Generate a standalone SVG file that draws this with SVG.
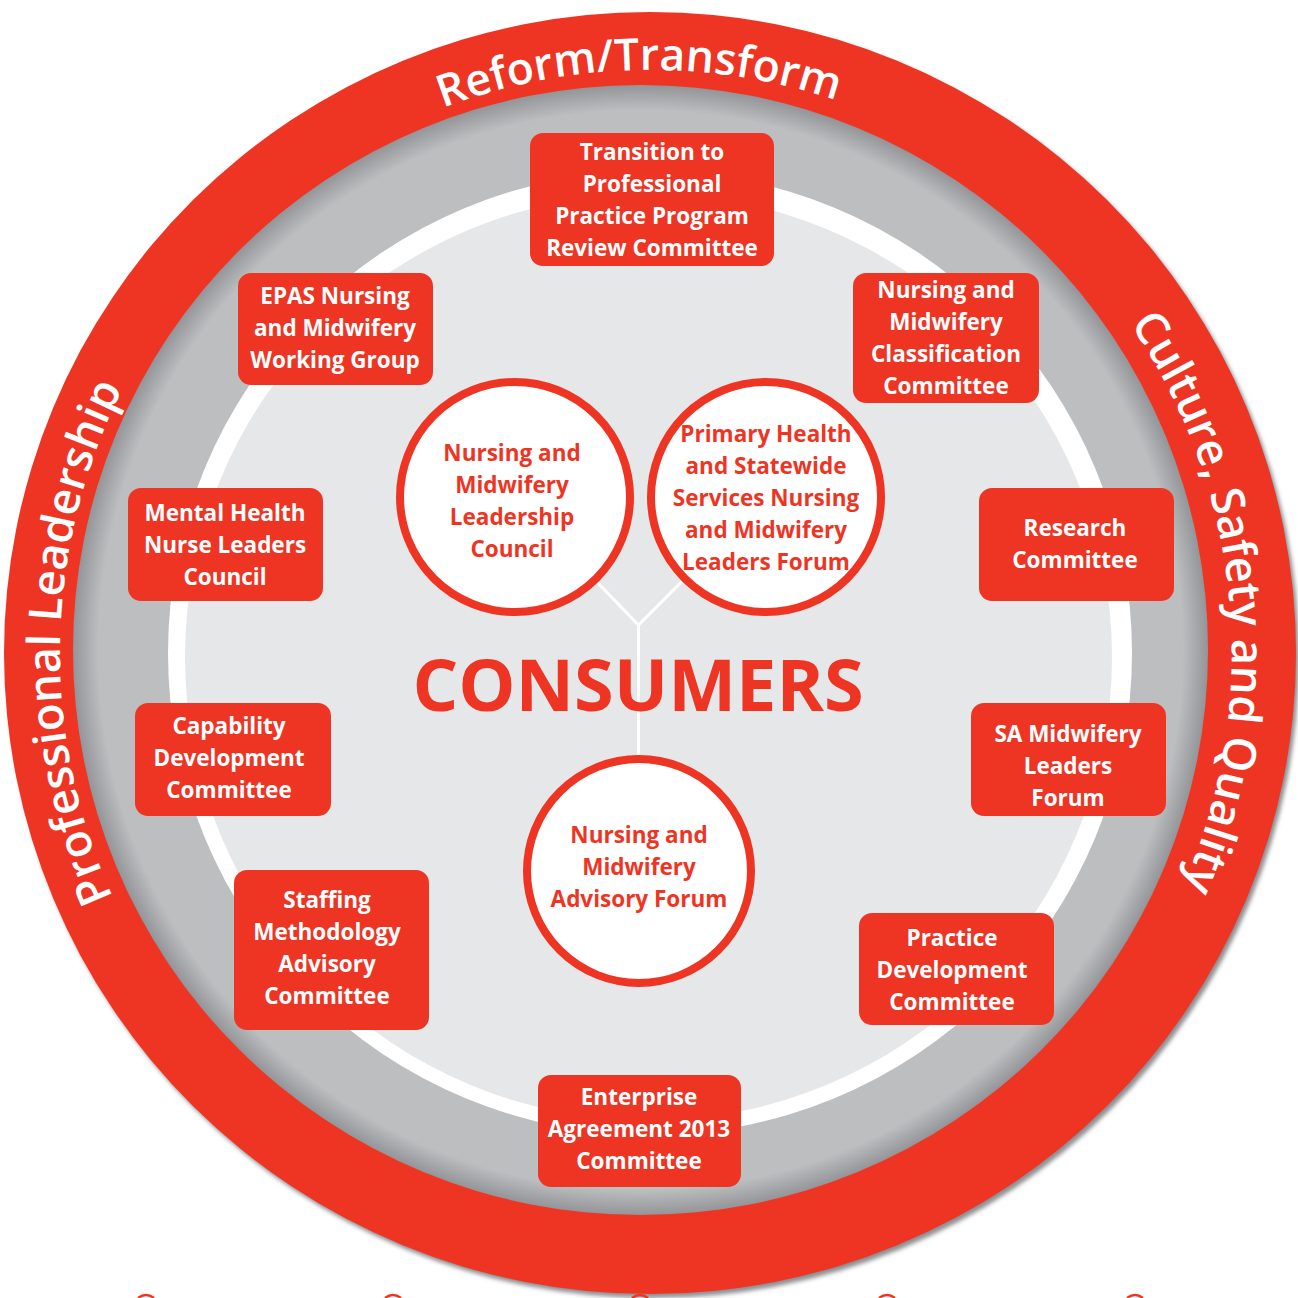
<svg xmlns="http://www.w3.org/2000/svg" xmlns:xlink="http://www.w3.org/1999/xlink" width="1298" height="1298" viewBox="0 0 1298 1298">
  <style>
    .box { fill: #ee3524; }
    .boxtext { fill: #ffffff; font-family: "Open Sans", "Liberation Sans", sans-serif; font-weight: 700; font-size: 22.5px; text-anchor: middle; }
    .disc { fill: #ffffff; stroke: #ee3524; stroke-width: 8; }
    .disctext { fill: #ee3524; font-family: "Open Sans", "Liberation Sans", sans-serif; font-weight: 700; font-size: 22.5px; text-anchor: middle; }
    .ringtext { fill: #ffffff; font-family: "Open Sans", "Liberation Sans", sans-serif; font-weight: 600; font-size: 45.5px; }
    .ringtext.top { font-size: 44.5px; }
    .link { fill: none; stroke: #ffffff; stroke-width: 3; }
  </style>
  <defs>
    <radialGradient id="greyBand" cx="0.5" cy="0.5" r="0.5">
      <stop offset="0.955" stop-color="#bcbec0"/>
      <stop offset="1" stop-color="#939598"/>
    </radialGradient>
    <filter id="soft" x="-5%" y="-5%" width="110%" height="110%">
      <feGaussianBlur stdDeviation="2"/>
    </filter>
    <path id="arcTop" d="M67,653 A583,583 0 0 1 1233,653"/>
    <path id="arcLeft" d="M648,1241 A588,588 0 0 1 648,65"/>
    <path id="arcRight" d="M650,71 A582,582 0 0 1 650,1235"/>
  </defs>

  <rect width="1298" height="1298" fill="#ffffff"/>

  <!-- concentric rings -->
  <g id="rings">
    <ellipse cx="653" cy="657" rx="646" ry="641" fill="#8d8f92" filter="url(#soft)"/>
    <ellipse cx="650" cy="653" rx="646" ry="641" fill="#ee3524"/>
    <ellipse cx="640.5" cy="650" rx="567.5" ry="565" fill="url(#greyBand)"/>
    <circle cx="650" cy="653" r="482" fill="#ffffff"/>
    <circle cx="648.5" cy="657" r="463.5" fill="#e6e7e8"/>
  </g>

  <!-- labels on the outer red ring -->
  <g id="ring-labels">
    <text class="ringtext top"><textPath xlink:href="#arcTop" href="#arcTop" startOffset="49.4%" text-anchor="middle">Reform/Transform</textPath></text>
    <text class="ringtext"><textPath xlink:href="#arcLeft" href="#arcLeft" startOffset="50.6%" text-anchor="middle">Professional Leadership</textPath></text>
    <text class="ringtext"><textPath xlink:href="#arcRight" href="#arcRight" startOffset="47%" text-anchor="middle">Culture, Safety and Quality</textPath></text>
  </g>

  <!-- links between the three central forums -->
  <g id="connectors">
    <path class="link" d="M515,497 L638.5,625 L766,497"/>
    <path class="link" d="M638.5,625 V871"/>
  </g>

  <g id="consumers">
    <text x="638" y="711" fill="#ee3524" font-family="'Open Sans', 'Liberation Sans', sans-serif" font-weight="700" font-size="72" text-anchor="middle">CONSUMERS</text>
  </g>

  <!-- central forums -->
  <g id="leadership-council">
    <circle class="disc" cx="515" cy="497" r="115"/>
    <text class="disctext" x="512"><tspan x="512" y="461">Nursing and</tspan><tspan x="512" y="493">Midwifery</tspan><tspan x="512" y="525">Leadership</tspan><tspan x="512" y="557">Council</tspan></text>
  </g>
  <g id="primary-health-forum">
    <circle class="disc" cx="766" cy="497" r="115"/>
    <text class="disctext" x="766"><tspan x="766" y="442">Primary Health</tspan><tspan x="766" y="474">and Statewide</tspan><tspan x="766" y="506">Services Nursing</tspan><tspan x="766" y="538">and Midwifery</tspan><tspan x="766" y="570">Leaders Forum</tspan></text>
  </g>
  <g id="advisory-forum">
    <circle class="disc" cx="639" cy="871" r="112"/>
    <text class="disctext" x="639"><tspan x="639" y="843">Nursing and</tspan><tspan x="639" y="875">Midwifery</tspan><tspan x="639" y="907">Advisory Forum</tspan></text>
  </g>

  <!-- committees -->
  <g id="transition-committee">
    <rect class="box" x="530" y="133" width="244" height="133" rx="13"/>
    <text class="boxtext"><tspan x="652" y="160">Transition to</tspan><tspan x="652" y="192">Professional</tspan><tspan x="652" y="224">Practice Program</tspan><tspan x="652" y="256">Review Committee</tspan></text>
  </g>
  <g id="epas-group">
    <rect class="box" x="238" y="273" width="195" height="112" rx="13"/>
    <text class="boxtext"><tspan x="335" y="304">EPAS Nursing</tspan><tspan x="335" y="336">and Midwifery</tspan><tspan x="335" y="368">Working Group</tspan></text>
  </g>
  <g id="classification-committee">
    <rect class="box" x="853" y="273" width="186" height="130" rx="13"/>
    <text class="boxtext"><tspan x="946" y="298">Nursing and</tspan><tspan x="946" y="330">Midwifery</tspan><tspan x="946" y="362">Classification</tspan><tspan x="946" y="394">Committee</tspan></text>
  </g>
  <g id="mental-health-council">
    <rect class="box" x="128" y="488" width="195" height="113" rx="13"/>
    <text class="boxtext"><tspan x="225" y="521">Mental Health</tspan><tspan x="225" y="553">Nurse Leaders</tspan><tspan x="225" y="585">Council</tspan></text>
  </g>
  <g id="research-committee">
    <rect class="box" x="979" y="488" width="195" height="113" rx="13"/>
    <text class="boxtext"><tspan x="1075" y="536">Research</tspan><tspan x="1075" y="568">Committee</tspan></text>
  </g>
  <g id="capability-committee">
    <rect class="box" x="135" y="703" width="196" height="113" rx="13"/>
    <text class="boxtext"><tspan x="229" y="734">Capability</tspan><tspan x="229" y="766">Development</tspan><tspan x="229" y="798">Committee</tspan></text>
  </g>
  <g id="sa-midwifery-forum">
    <rect class="box" x="971" y="703" width="195" height="113" rx="13"/>
    <text class="boxtext"><tspan x="1068" y="742">SA Midwifery</tspan><tspan x="1068" y="774">Leaders</tspan><tspan x="1068" y="806">Forum</tspan></text>
  </g>
  <g id="staffing-committee">
    <rect class="box" x="234" y="870" width="195" height="160" rx="13"/>
    <text class="boxtext"><tspan x="327" y="908">Staffing</tspan><tspan x="327" y="940">Methodology</tspan><tspan x="327" y="972">Advisory</tspan><tspan x="327" y="1004">Committee</tspan></text>
  </g>
  <g id="practice-development-committee">
    <rect class="box" x="859" y="913" width="195" height="112" rx="13"/>
    <text class="boxtext"><tspan x="952" y="946">Practice</tspan><tspan x="952" y="978">Development</tspan><tspan x="952" y="1010">Committee</tspan></text>
  </g>
  <g id="enterprise-committee">
    <rect class="box" x="538" y="1075" width="203" height="112" rx="13"/>
    <text class="boxtext"><tspan x="639" y="1105">Enterprise</tspan><tspan x="639" y="1137">Agreement 2013</tspan><tspan x="639" y="1169">Committee</tspan></text>
  </g>

  <!-- small marks along the lower edge -->
  <g id="edge-marks" fill="none" stroke="#ee3524" stroke-width="2.5">
    <path d="M138,1298 Q146,1292 154,1298"/>
    <path d="M385,1298 Q393,1292 401,1298"/>
    <path d="M632,1298 Q640,1292 648,1298"/>
    <path d="M879,1298 Q887,1292 895,1298"/>
    <path d="M1127,1298 Q1135,1292 1143,1298"/>
  </g>
</svg>
